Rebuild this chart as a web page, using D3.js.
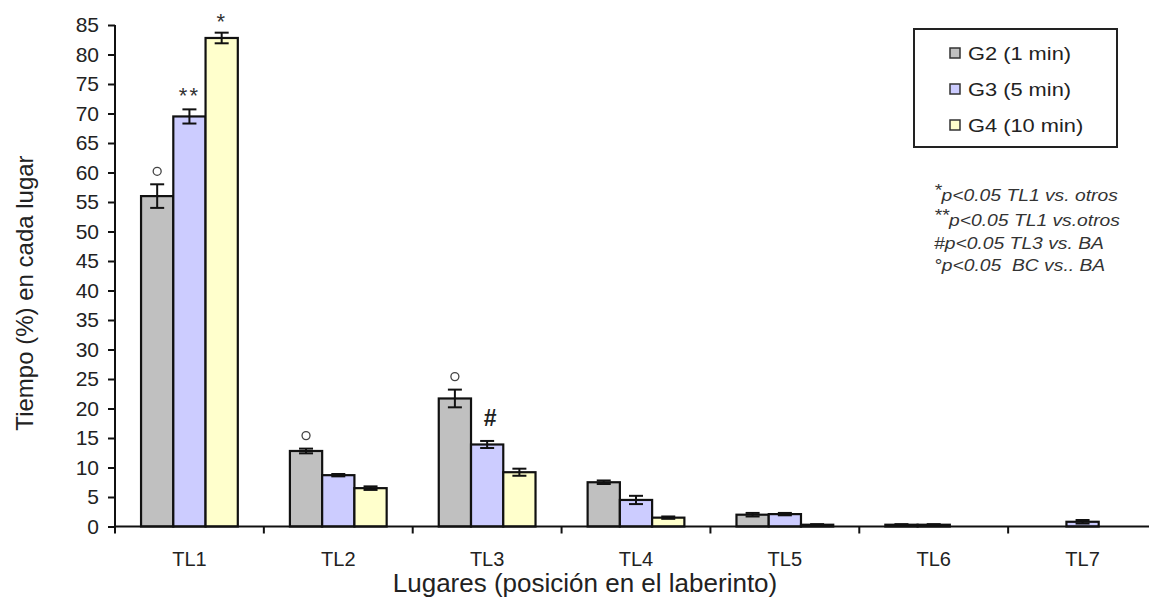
<!DOCTYPE html>
<html>
<head>
<meta charset="utf-8">
<script src="https://cdn.jsdelivr.net/npm/d3@7"></script>
<style>
  body { margin: 0; background: #fff; }
  svg { display: block; font-family: "Liberation Sans", Arial, sans-serif; }
</style>
</head>
<body>
<div id="chart"></div>
<script>
// categories (places in the maze) and the three groups
var categories = ["TL1", "TL2", "TL3", "TL4", "TL5", "TL6", "TL7"];
var seriesNames = ["G2 (1 min)", "G3 (5 min)", "G4 (10 min)"];
// mean time (%) per place
var g2 = [56, 12.8, 21.7, 7.5, 2.0, 0.3, 0];
var g3 = [69.5, 8.7, 13.9, 4.5, 2.1, 0.3, 0.8];
var g4 = [82.8, 6.5, 9.2, 1.5, 0.3, 0, 0];
// error bars (SEM)
var g2err = [2.0, 0.4, 1.5, 0.3, 0.3, 0.1, 0];
var g3err = [1.2, 0.2, 0.6, 0.7, 0.2, 0.1, 0.3];
var g4err = [0.9, 0.3, 0.6, 0.2, 0.1, 0, 0];
var yTicks = d3.range(0, 86, 5);
// significance marks: category, series index, symbol
var markCat = ["TL1", "TL1", "TL1", "TL2", "TL3", "TL3"];
var markSeries = [0, 1, 2, 0, 0, 1];
var markSymbol = ["o", "**", "*", "o", "o", "#"];
var notes = [
  ["*", "p<0.05 TL1 vs. otros"],
  ["**", "p<0.05 TL1 vs.otros"],
  ["#", "p<0.05 TL3 vs. BA"],
  ["°", "p<0.05  BC vs.. BA"]
];

var values = [g2, g3, g4];
var errors = [g2err, g3err, g4err];
var colors = ["#c0c0c0", "#ccccff", "#ffffcc"];

var w = 1149, h = 598;
var plotLeft = 115, plotRight = 1157, plotTop = 25, plotBottom = 526.5;

var svg = d3.select("#chart").append("svg")
  .attr("width", w)
  .attr("height", h);

var x = d3.scaleBand()
  .domain(categories)
  .range([plotLeft, plotRight])
  .paddingInner(0.35)
  .paddingOuter(0.175);
var xs = d3.scaleBand()
  .domain(d3.range(seriesNames.length))
  .range([0, x.bandwidth()]);
var y = d3.scaleLinear().domain([0, 85]).range([plotBottom, plotTop]);

// bars
seriesNames.forEach(function(name, s) {
  svg.append("g").selectAll("rect")
    .data(categories)
    .enter().append("rect")
    .attr("x", function(c) { return x(c) + xs(s); })
    .attr("y", function(c, i) { return y(values[s][i]); })
    .attr("width", xs.bandwidth())
    .attr("height", function(c, i) { return y(0) - y(values[s][i]); })
    .attr("fill", colors[s])
    .attr("stroke", "#111")
    .attr("stroke-width", function(c, i) { return values[s][i] ? 2.2 : 0; });
});

// error bars
seriesNames.forEach(function(name, s) {
  var g = svg.append("g").attr("stroke", "#111").attr("stroke-width", 2);
  categories.forEach(function(c, i) {
    var e = errors[s][i];
    if (!e) return;
    var cx = x(c) + xs(s) + xs.bandwidth() / 2;
    var v = values[s][i];
    g.append("line").attr("x1", cx).attr("x2", cx)
      .attr("y1", y(v + e)).attr("y2", y(Math.max(0, v - e)));
    [v + e, Math.max(0, v - e)].forEach(function(t) {
      g.append("line").attr("x1", cx - 7).attr("x2", cx + 7)
        .attr("y1", y(t)).attr("y2", y(t));
    });
  });
});

// axes
var yAxis = svg.append("g")
  .attr("transform", "translate(" + plotLeft + ",0)")
  .call(d3.axisLeft(y).tickValues(yTicks).tickSize(7).tickPadding(9));
yAxis.select(".domain").attr("stroke", "#111").attr("stroke-width", 2)
  .attr("d", "M0," + plotTop + "V" + (plotBottom + 4));
yAxis.selectAll(".tick line").attr("stroke", "#111").attr("stroke-width", 2);
yAxis.selectAll("text").attr("font-size", 21).attr("fill", "#222")
  .attr("font-family", "Liberation Sans, Arial, sans-serif");

var xg = svg.append("g");
xg.append("line").attr("x1", plotLeft).attr("x2", plotRight)
  .attr("y1", plotBottom).attr("y2", plotBottom)
  .attr("stroke", "#111").attr("stroke-width", 2);
var edges = categories.map(function(c) { return x(c) - x.step() * x.paddingInner() / 2; });
edges.push(plotRight);
xg.selectAll(".xt").data(edges).enter().append("line")
  .attr("x1", function(d) { return d; }).attr("x2", function(d) { return d; })
  .attr("y1", plotBottom).attr("y2", plotBottom + 7)
  .attr("stroke", "#111").attr("stroke-width", 2);
xg.selectAll(".xl").data(categories).enter().append("text")
  .attr("x", function(c) { return x(c) + x.bandwidth() / 2; })
  .attr("y", 566)
  .attr("text-anchor", "middle")
  .attr("font-size", 20).attr("fill", "#222")
  .text(function(c) { return c; });

// axis titles
svg.append("text")
  .attr("x", 585).attr("y", 592)
  .attr("text-anchor", "middle")
  .attr("font-size", 26).attr("fill", "#222")
  .text("Lugares (posición en el laberinto)");
svg.append("text")
  .attr("transform", "translate(33,293) rotate(-90)")
  .attr("text-anchor", "middle")
  .attr("font-size", 24).attr("fill", "#222")
  .text("Tiempo (%) en cada lugar");

// significance marks above bars
markCat.forEach(function(c, k) {
  var s = markSeries[k], i = categories.indexOf(c);
  var cx = x(c) + xs(s) + xs.bandwidth() / 2;
  var errTop = y(values[s][i] + errors[s][i]);
  if (markSymbol[k] === "o") {
    svg.append("circle").attr("cx", cx).attr("cy", errTop - 13).attr("r", 4)
      .attr("fill", "none").attr("stroke", "#444").attr("stroke-width", 1.3);
  } else if (markSymbol[k] === "#") {
    svg.append("text").attr("x", cx + 3).attr("y", errTop - 15)
      .attr("text-anchor", "middle").attr("font-size", 23).attr("font-weight", "bold")
      .attr("fill", "#222").text("#");
  } else {
    svg.append("text").attr("x", cx).attr("y", errTop + (markSymbol[k] === "*" ? -4 : -6))
      .attr("text-anchor", "middle").attr("font-size", 22)
      .attr("letter-spacing", 2)
      .attr("fill", "#333").text(markSymbol[k]);
  }
});

// legend
var lg = svg.append("g");
lg.append("rect").attr("x", 914).attr("y", 29).attr("width", 203).attr("height", 118)
  .attr("fill", "#fff").attr("stroke", "#222").attr("stroke-width", 2);
seriesNames.forEach(function(name, s) {
  var cy = 53 + s * 36;
  lg.append("rect").attr("x", 950).attr("y", cy - 5).attr("width", 10).attr("height", 10)
    .attr("fill", colors[s]).attr("stroke", "#333").attr("stroke-width", 1.5);
  lg.append("text")
    .attr("transform", "translate(968," + (cy + 7) + ") scale(1.18,1)")
    .attr("font-size", 18.5).attr("fill", "#222")
    .text(name);
});

// notes
var nb = [201, 226, 249, 271];
notes.forEach(function(n, k) {
  var t = svg.append("text")
    .attr("transform", "translate(934," + nb[k] + ") scale(1.17,1)")
    .attr("font-size", 16.5).attr("font-style", "italic").attr("fill", "#333")
    .style("white-space", "pre");
  var raised = n[0] === "*" || n[0] === "**";
  t.append("tspan").attr("dy", raised ? -5 : 0).text(n[0]);
  t.append("tspan").attr("dy", raised ? 5 : 0).text(n[1]);
});
</script>
</body>
</html>
